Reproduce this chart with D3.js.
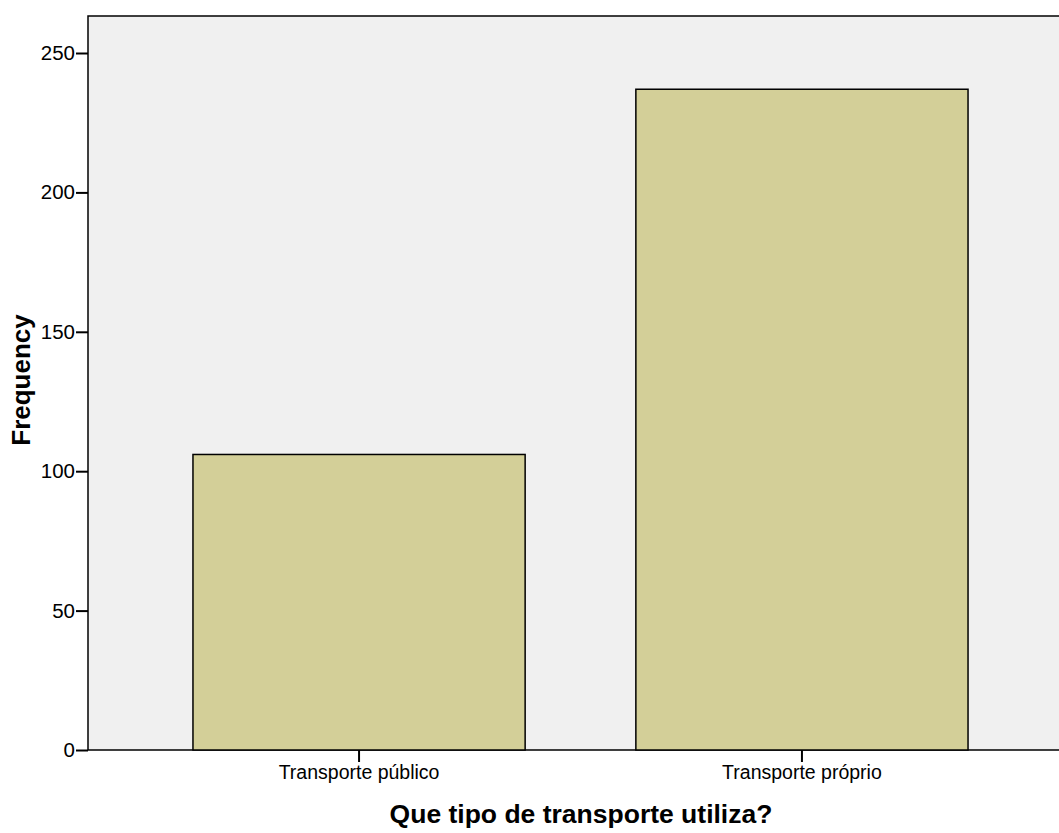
<!DOCTYPE html>
<html>
<head>
<meta charset="utf-8">
<script src="https://cdn.jsdelivr.net/npm/d3@7"></script>
<style>
  body { margin: 0; background: #fff; }
  svg { display: block; font-family: "Liberation Sans", Arial, sans-serif; }
</style>
</head>
<body>
<div id="chart"></div>
<script>
// data
const categories = ["Transporte público", "Transporte próprio"];
const frequencies = [106, 237];
const yTicks = [0, 50, 100, 150, 200, 250];

const width = 1059, height = 833;
const margin = { top: 16, left: 88, bottom: 83 };
const plotRight = 1073; // plot area runs past the right edge

const svg = d3.select("#chart")
    .append("svg")
    .attr("width", width)
    .attr("height", height);

const x = d3.scaleBand()
    .domain(categories)
    .range([margin.left, plotRight])
    .paddingInner(0.25)
    .paddingOuter(0.237);

const y = d3.scaleLinear()
    .domain([0, 250])
    .range([height - margin.bottom, 53]);

// background of plot area
svg.append("rect")
    .attr("x", margin.left)
    .attr("y", margin.top)
    .attr("width", plotRight - margin.left)
    .attr("height", y(0) - margin.top)
    .attr("fill", "#f0f0f0")
    .attr("stroke", "#000")
    .attr("stroke-width", 1.5);

// bars
svg.selectAll(".bar")
    .data(frequencies)
    .join("rect")
    .attr("class", "bar")
    .attr("x", (d, i) => x(categories[i]))
    .attr("y", d => y(d))
    .attr("width", x.bandwidth())
    .attr("height", d => y(0) - y(d))
    .attr("fill", "#d3cf98")
    .attr("stroke", "#000")
    .attr("stroke-width", 1.5);

// y axis
const yAxis = svg.append("g")
    .attr("transform", `translate(${margin.left},0)`)
    .call(d3.axisLeft(y).tickValues(yTicks).tickSize(12).tickSizeOuter(0).tickPadding(1));
yAxis.select(".domain").remove();
yAxis.selectAll("line").attr("stroke-width", 2);
yAxis.selectAll("text")
    .attr("font-size", 20.5)
    .attr("font-family", "Liberation Sans, Arial, sans-serif")
    .attr("fill", "#000");

// x axis
const xAxis = svg.append("g")
    .attr("transform", `translate(0,${y(0)})`)
    .call(d3.axisBottom(x).tickSize(12).tickSizeOuter(0).tickPadding(3));
xAxis.select(".domain").remove();
xAxis.selectAll("line").attr("stroke-width", 2);
xAxis.selectAll("text")
    .attr("font-size", 19.5)
    .attr("font-family", "Liberation Sans, Arial, sans-serif")
    .attr("fill", "#000");

// axis titles
svg.append("text")
    .attr("x", 581)
    .attr("y", 823)
    .attr("text-anchor", "middle")
    .attr("font-size", 26.5)
    .attr("font-weight", "bold")
    .text("Que tipo de transporte utiliza?");

svg.append("text")
    .attr("transform", "translate(30,380) rotate(-90)")
    .attr("text-anchor", "middle")
    .attr("font-size", 26)
    .attr("font-weight", "bold")
    .text("Frequency");
</script>
</body>
</html>
